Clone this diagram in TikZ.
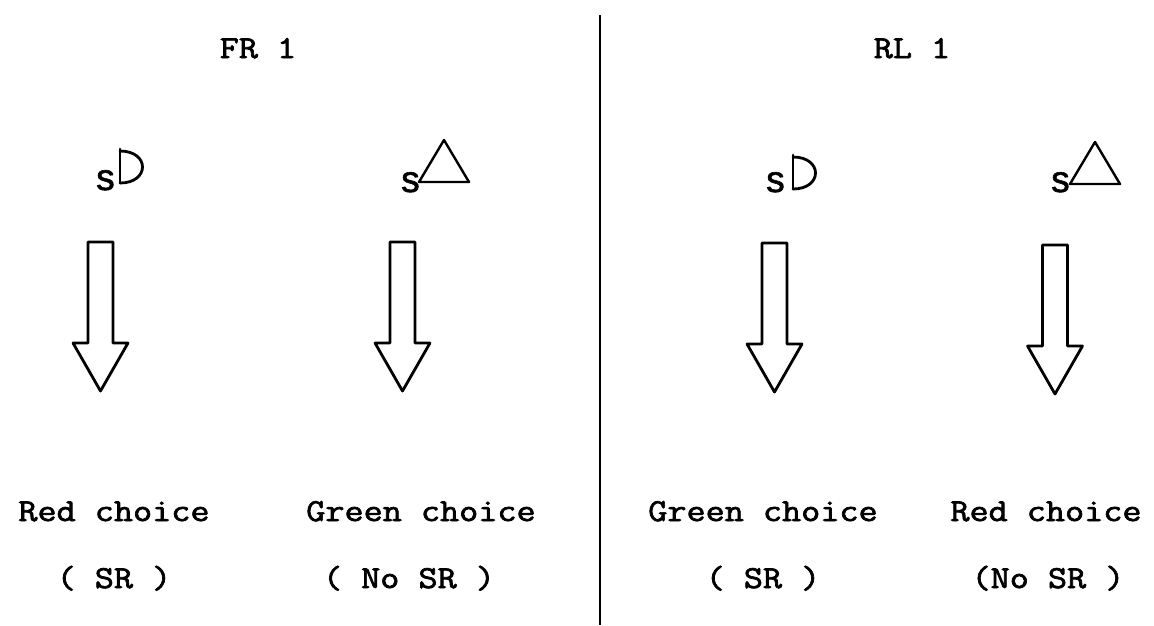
\documentclass[tikz,border=0pt]{standalone}
\usepackage{fontspec}
\newfontfamily\typer{Latin Modern Mono}[FakeStretch=1.16, FakeBold=2.2]
\newfontfamily\symfont{Liberation Sans}[FakeBold=1.5]
\begin{document}
\begin{tikzpicture}[x=1pt,y=-1pt,
  txt/.style={font=\typer\fontsize{32}{36}\selectfont, inner sep=0pt, anchor=base},
  sletter/.style={font=\symfont\fontsize{37}{40}\selectfont, inner sep=0pt, anchor=base west},
  sign/.style={draw=black, line width=2.8pt, line join=round, line cap=round},
  blockarrow/.style={draw=black, line width=2.8pt, line join=round, fill=white},
  hollowarrow/.pic={
    \draw[blockarrow] (-12.5,0) -- (-12.5,101) -- (-27.5,101) -- (0,149)
      -- (27.5,101) -- (12.5,101) -- (12.5,0) -- cycle;
  },
  dshape/.pic={
    \draw[sign] (0,-1) -- (0,33);
    \draw[sign] (0,1) .. controls (30,1) and (30,33) .. (0,33);
  },
  trishape/.pic={
    \draw[sign, line width=2.4pt] (0,42) -- (25,0) -- (50,42) -- cycle;
  },
]
\useasboundingbox (0,0) rectangle (1154,625);

% divider between the two panels
\coordinate (divtop) at (600,15);
\coordinate (divbot) at (600,625);
\draw[line width=1.8pt] (divtop) -- (divbot);

% panel titles
\node[txt] (fr) at (258,58) {FR 1};
\node[txt] (rl) at (912,58) {RL 1};

% discriminative stimuli
\node[sletter] (s1) at (96,190) {s};
\pic (d1) at (120,150) {dshape};
\node[sletter] (s2) at (401,192) {s};
\pic (t1) at (419,140) {trishape};
\node[sletter] (s3) at (766,192) {s};
\pic (d2) at (793,156) {dshape};
\node[sletter] (s4) at (1051,192) {s};
\pic (t2) at (1070,142) {trishape};

% hollow arrows
\pic (a1) at (100.5,242) {hollowarrow};
\pic (a2) at (402.5,242) {hollowarrow};
\pic (a3) at (774.5,243) {hollowarrow};
\pic (a4) at (1055,245) {hollowarrow};

% outcomes
\node[txt] (c1) at (114,521) {Red choice};
\node[txt] (r1) at (114,588) {( SR )};
\node[txt] (c2) at (421,521) {Green choice};
\node[txt] (r2) at (409,588) {( No SR )};
\node[txt] (c3) at (763,521) {Green choice};
\node[txt] (r3) at (763,588) {( SR )};
\node[txt] (c4) at (1046,521) {Red choice};
\node[txt] (r4) at (1048,588) {(No SR )};
\end{tikzpicture}
\end{document}
